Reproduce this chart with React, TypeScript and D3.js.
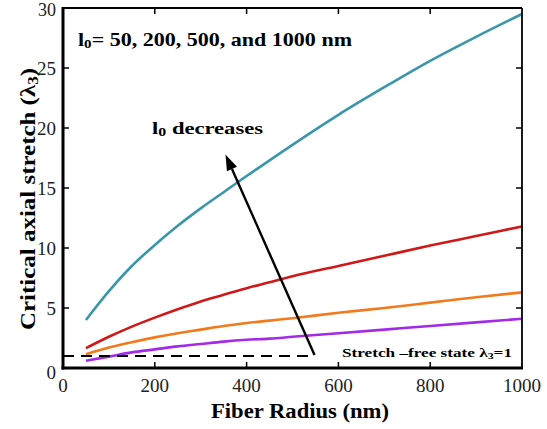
import React from "react";
import * as d3 from "d3";

const radius = [50, 100, 150, 200, 250, 300, 350, 400, 450, 500, 600, 700, 800, 900, 1000];
const tealL = [4.0, 6.4, 8.5, 10.25, 11.85, 13.3, 14.65, 16.0, 17.3, 18.6, 21.1, 23.4, 25.6, 27.6, 29.5];
const redL = [1.65, 2.6, 3.45, 4.2, 4.9, 5.55, 6.1, 6.65, 7.15, 7.65, 8.5, 9.35, 10.2, 11.0, 11.8];
const orangeL = [1.15, 1.7, 2.15, 2.55, 2.9, 3.2, 3.5, 3.75, 3.95, 4.15, 4.6, 5.0, 5.45, 5.9, 6.3];
const purpleL = [0.6, 0.95, 1.3, 1.55, 1.8, 2.0, 2.2, 2.35, 2.45, 2.6, 2.9, 3.2, 3.5, 3.8, 4.1];
const xTicks = [0, 200, 400, 600, 800, 1000];
const yTicks = [0, 5, 10, 15, 20, 25, 30];
const series = [
  { name: "l0=50", values: tealL, color: "#3a96aa" },
  { name: "l0=200", values: redL, color: "#d01818" },
  { name: "l0=500", values: orangeL, color: "#f27a1c" },
  { name: "l0=1000", values: purpleL, color: "#a22ae8" },
];
const dashedEnd = 548;
const arrowFrom = [548, 1.08];
const arrowTo = [354, 17.8];

export default function App() {
  const W = 547, H = 429;
  const x = d3.scaleLinear().domain([0, 1000]).range([63, 522]);
  const y = d3.scaleLinear().domain([0, 30]).range([368, 8]);
  const line = d3
    .line<number>()
    .x((_, i) => x(radius[i]))
    .y((d) => y(d))
    .curve(d3.curveMonotoneX);
  const serif = "'Liberation Serif', 'DejaVu Serif', serif";
  const [x0, x1] = x.range();
  const [yb, yt] = y.range();

  const ax1 = x(arrowFrom[0]), ay1 = y(arrowFrom[1]);
  const ax2 = x(arrowTo[0]), ay2 = y(arrowTo[1]);
  const ang = Math.atan2(ay2 - ay1, ax2 - ax1);
  const hl = 16, hw = 5.5;
  const bx = ax2 - hl * Math.cos(ang), by = ay2 - hl * Math.sin(ang);
  const head = [
    [ax2, ay2],
    [bx + hw * Math.sin(ang), by - hw * Math.cos(ang)],
    [bx - hw * Math.sin(ang), by + hw * Math.cos(ang)],
  ];

  return (
    <svg width={W} height={H} style={{ position: "absolute", left: 0, top: 0, background: "#fff" }}>
      <rect width={W} height={H} fill="#fff" />
      {series.map((s) => (
        <path key={s.name} d={line(s.values) || ""} fill="none" stroke={s.color} strokeWidth={2.6} />
      ))}
      <line x1={x(0)} x2={x(dashedEnd)} y1={y(1)} y2={y(1)} stroke="#000" strokeWidth={2} strokeDasharray="11,7" />
      <text x={342} y={357} fontFamily={serif} fontWeight="bold" fontSize={13} textLength={170} lengthAdjust="spacingAndGlyphs">
        Stretch –free state λ<tspan fontSize={9} dy={2}>3</tspan><tspan dy={-2}>=1</tspan>
      </text>
      <line x1={ax1} y1={ay1} x2={bx} y2={by} stroke="#000" strokeWidth={2.4} />
      <polygon points={head.map((p) => p.join(",")).join(" ")} fill="#000" />

      <line x1={x1} x2={x1} y1={yt} y2={yb} stroke="#000" strokeWidth={1.8} />
      <line x1={x0} x2={x1} y1={yt} y2={yt} stroke="#000" strokeWidth={1.8} />
      <line x1={x0} x2={x0} y1={yt - 1} y2={yb + 1.5} stroke="#000" strokeWidth={3} />
      <line x1={x0 - 1.5} x2={x1 + 1} y1={yb} y2={yb} stroke="#000" strokeWidth={3} />

      {xTicks.map((t) => (
        <g key={"x" + t}>
          {t > 0 && t < 1000 && (
            <>
              <line x1={x(t)} x2={x(t)} y1={yb} y2={yb - 6} stroke="#000" strokeWidth={1.5} />
              <line x1={x(t)} x2={x(t)} y1={yt} y2={yt + 6} stroke="#000" strokeWidth={1.5} />
            </>
          )}
          <text x={x(t)} y={392} textAnchor="middle" fontFamily={serif} fontSize={19} fill="#222">
            {t}
          </text>
        </g>
      ))}
      {yTicks.map((t) => (
        <g key={"y" + t}>
          {t > 0 && t < 30 && (
            <>
              <line x1={x0} x2={x0 + 6} y1={y(t)} y2={y(t)} stroke="#000" strokeWidth={1.5} />
              <line x1={x1} x2={x1 - 6} y1={y(t)} y2={y(t)} stroke="#000" strokeWidth={1.5} />
            </>
          )}
          <text
            x={56}
            y={t === 0 ? y(t) + 11 : t === 30 ? y(t) + 8 : y(t) + 6.5}
            textAnchor="end"
            fontFamily={serif}
            fontSize={t === 30 ? 18 : 19}
            fill="#222"
          >
            {t}
          </text>
        </g>
      ))}

      <text x={300} y={418} textAnchor="middle" fontFamily={serif} fontWeight="bold" fontSize={22} textLength={178} lengthAdjust="spacingAndGlyphs">
        Fiber Radius (nm)
      </text>
      <text
        transform="translate(35,199) rotate(-90)"
        textAnchor="middle"
        fontFamily={serif}
        fontWeight="bold"
        fontSize={22}
        textLength={262}
        lengthAdjust="spacingAndGlyphs"
      >
        Critical axial stretch (λ<tspan fontSize={15} dy={3}>3</tspan><tspan dy={-3}>)</tspan>
      </text>
      <text x={78} y={46} fontFamily={serif} fontWeight="bold" fontSize={19} textLength={274} lengthAdjust="spacingAndGlyphs">
        l<tspan fontSize={13} dy={2}>0</tspan><tspan dy={-2}>= 50, 200, 500, and 1000 nm</tspan>
      </text>
      <text x={152} y={134} fontFamily={serif} fontWeight="bold" fontSize={17} textLength={111} lengthAdjust="spacingAndGlyphs">
        l<tspan fontSize={12} dy={2}>0</tspan><tspan dy={-2}> decreases</tspan>
      </text>
    </svg>
  );
}
